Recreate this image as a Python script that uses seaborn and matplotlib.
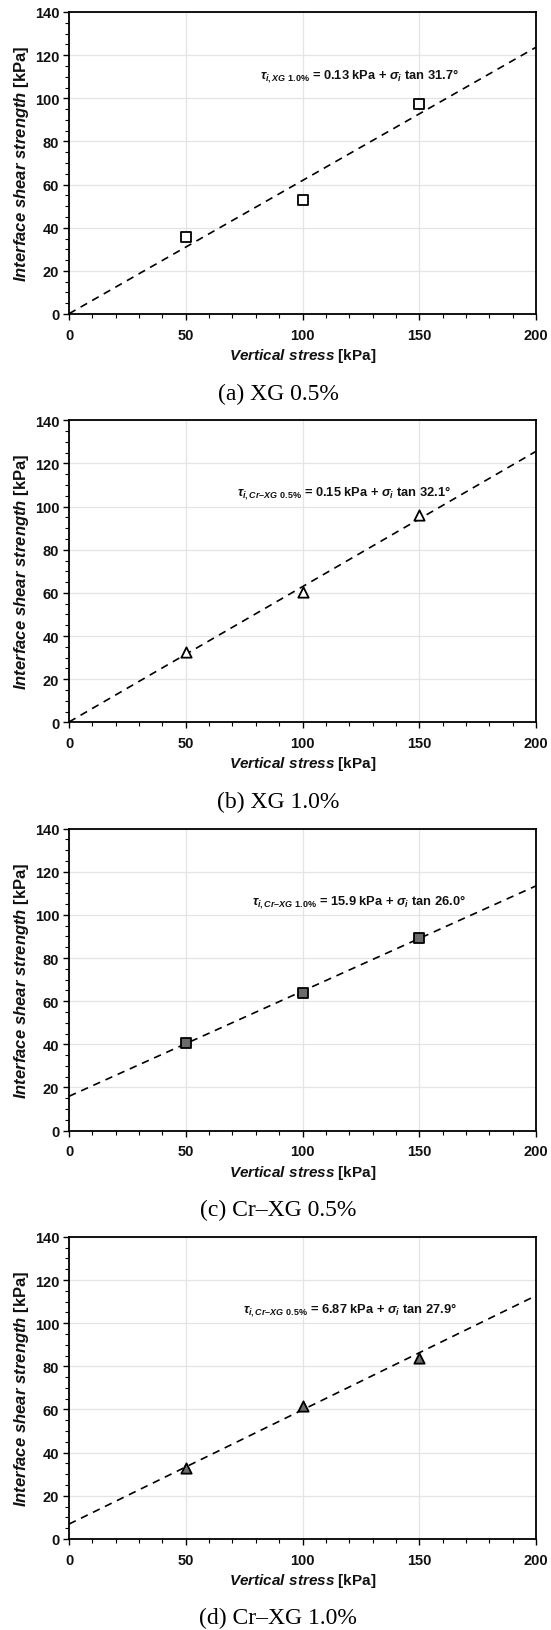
import numpy as np
import pandas as pd
import matplotlib
matplotlib.use("Agg")
import matplotlib.pyplot as plt
import seaborn as sns
from matplotlib.ticker import MultipleLocator

# ---- data ----
stress = [50, 100, 150]
strength_a = [35.5, 53.0, 97.5]
strength_b = [32.8, 60.2, 96.0]
strength_c = [40.5, 63.8, 89.2]
strength_d = [32.8, 61.7, 84.0]
intercepts = [0.13, 0.15, 15.9, 6.87]
angles = [31.7, 32.1, 26.0, 27.9]
subscripts = ["XG\\ 1.0\\%", "Cr–XG\\ 0.5\\%", "Cr–XG\\ 1.0\\%", "Cr–XG\\ 0.5\\%"]
captions = ["(a) XG 0.5%", "(b) XG 1.0%", "(c) Cr–XG 0.5%", "(d) Cr–XG 1.0%"]
eq_pos = [(82, 110.5), (72, 106.5), (78.5, 106.3), (74.5, 106.7)]
x_ticks = [0, 50, 100, 150, 200]
y_ticks = [0, 20, 40, 60, 80, 100, 120, 140]

series = [strength_a, strength_b, strength_c, strength_d]
markers = ["s", "^", "s", "^"]
faces = ["white", "white", "#6b6b6b", "#6b6b6b"]
sizes = [62, 55, 62, 55]

sns.set_theme(style="white")
plt.rcParams['font.family'] = ['Liberation Sans', 'DejaVu Sans']
plt.rcParams['mathtext.fontset'] = 'custom'
plt.rcParams['mathtext.rm'] = 'Liberation Sans:bold'
plt.rcParams['mathtext.it'] = 'Liberation Sans:italic:bold'
plt.rcParams['mathtext.bf'] = 'Liberation Sans:bold'

W, H = 551, 1631
fig = plt.figure(figsize=(W / 100, H / 100), dpi=100)

left, right = 69, 536
period = 408.3
for k in range(4):
    top = 13 + period * k
    bottom = 315 + period * k
    ax = fig.add_axes([left / W, 1 - bottom / H, (right - left) / W, (bottom - top) / H])

    df = pd.DataFrame({"x": stress, "y": series[k]})
    line_x = [0, 200]
    line_y = [intercepts[k] + xx * np.tan(np.radians(angles[k])) for xx in line_x]
    ldf = pd.DataFrame({"x": line_x, "y": line_y})
    sns.lineplot(data=ldf, x="x", y="y", ax=ax, color="black", lw=1.2,
                 linestyle=(0, (4.5, 3.5)), zorder=2)
    sns.scatterplot(data=df, x="x", y="y", ax=ax, marker=markers[k], s=sizes[k],
                    facecolor=faces[k], edgecolor="black", linewidth=1.3, zorder=3)

    ax.set_xlim(0, 200)
    ax.set_ylim(0, 140)
    ax.set_xticks(x_ticks)
    ax.set_yticks(y_ticks)
    ax.xaxis.set_minor_locator(MultipleLocator(10))
    ax.yaxis.set_minor_locator(MultipleLocator(5))
    ax.grid(True, which="major", color="#e4e4e4", lw=0.9, zorder=0)
    ax.set_axisbelow(True)
    for sp in ax.spines.values():
        sp.set_color("black")
        sp.set_linewidth(1.3)
    ax.tick_params(which="major", direction="out", length=4, width=1.0, color="black",
                   labelsize=10.5, bottom=True, left=True)
    ax.tick_params(axis="x", which="major", pad=6)
    ax.tick_params(axis="y", which="major", pad=3)
    ax.tick_params(which="minor", direction="out", length=3, width=0.8, color="black",
                   bottom=True, left=True)
    for lab in ax.get_xticklabels() + ax.get_yticklabels():
        lab.set_fontweight("bold")
        lab.set_color("#111111")
    ax.set_xlabel(r"$\mathit{Vertical\ stress}$ [kPa]", fontsize=11, fontweight="bold",
                  labelpad=3, color="#111111")
    ax.set_ylabel(r"$\mathit{Interface\ shear\ strength}$ [kPa]", fontsize=12,
                  fontweight="bold", labelpad=3, color="#111111")

    ex, ey = eq_pos[k]
    eq = (r"$\tau_{i,\mathit{" + subscripts[k] + r"}}$" +
          f" = {intercepts[k]} kPa + " + r"$\sigma_i$" + f" tan {angles[k]:.1f}°")
    ax.text(ex, ey, eq, fontsize=9.3, fontweight="bold", ha="left", va="center",
            color="#111111", zorder=4)

    fig.text(0.505, 1 - (394 + period * k) / H, captions[k], ha="center", va="center",
             fontsize=17, family="Liberation Serif", color="black")

fig.savefig("out.png", dpi=100)
